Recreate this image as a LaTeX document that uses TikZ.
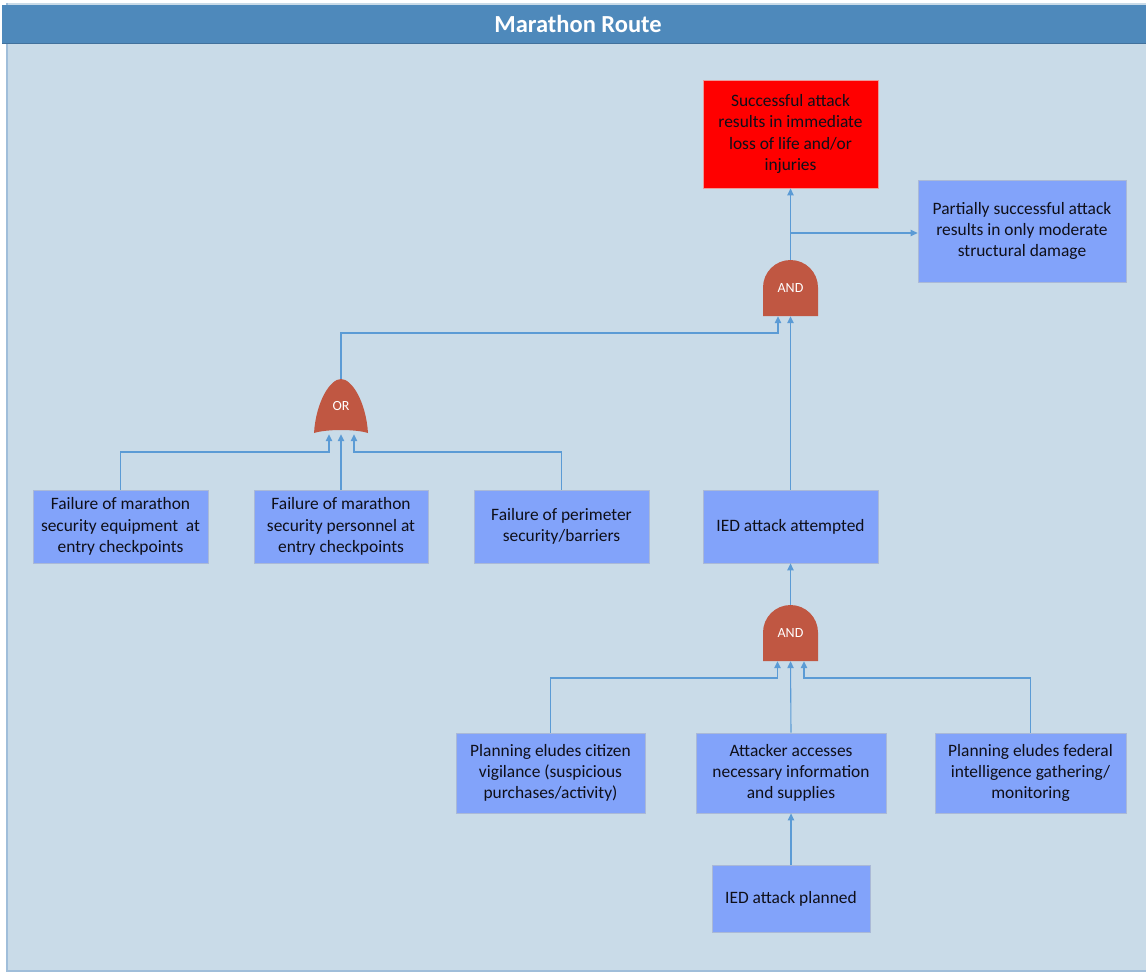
\documentclass[tikz,border=0pt]{standalone}
\usepackage{fontspec}
\setmainfont{Carlito}
\usetikzlibrary{arrows.meta}
\definecolor{bgc}{RGB}{201,219,232}
\definecolor{framec}{RGB}{160,190,218}
\definecolor{titlec}{RGB}{78,137,187}
\definecolor{titleedge}{RGB}{65,113,156}
\definecolor{boxc}{RGB}{130,163,250}
\definecolor{boxedge}{RGB}{170,185,215}
\definecolor{gatec}{RGB}{192,87,66}
\definecolor{linec}{RGB}{91,155,213}
\definecolor{txtc}{RGB}{15,15,25}
\tikzset{
  evt/.style={draw=boxedge, line width=0.8pt, fill=boxc, align=center, text=txtc,
    font=\fontsize{17.4}{21.3}\selectfont, inner sep=0pt},
  topevt/.style={evt, fill=red, draw=red!80!black!40!white},
  gatebox/.style={inner sep=0pt, text=white, font=\fontsize{14}{16}\selectfont},
  gatefill/.style={fill=gatec, draw=none},
  conn/.style={draw=linec, line width=1.1pt, -{Triangle[length=7pt,width=6.5pt]}},
  plain/.style={draw=linec, line width=1.1pt}
}
\begin{document}
\begin{tikzpicture}[x=1pt,y=-1pt]
\useasboundingbox (0,0) rectangle (1146,974);
\fill[white] (0,0) rectangle (1146,974);
\fill[bgc] (7,3) rectangle (1146,971);
\draw[framec, line width=2pt] (7,3) -- (7,971) -- (1146,971);
% title
\fill[titlec] (2,5) rectangle (1146,44);
\draw[titleedge, line width=1pt] (2,44) -- (1146,44);
\node[text=white, font=\fontsize{24.5}{28}\selectfont\bfseries] (title) at (578,24) {Marathon Route};

% events
\node[topevt, minimum width=175, minimum height=108] (top) at (790.5,134) {Successful attack\\results in immediate\\loss of life and/or\\injuries};
\node[evt, minimum width=208, minimum height=102] (part) at (1022,231) {Partially successful attack\\results in only moderate\\structural damage};
\node[evt, minimum width=175, minimum height=73] (fe) at (120.5,526.5) {Failure of marathon\\security equipment\ \ at\\entry checkpoints};
\node[evt, minimum width=174, minimum height=73] (fp) at (341,526.5) {Failure of marathon\\security personnel at\\entry checkpoints};
\node[evt, minimum width=175, minimum height=73] (pb) at (561.5,526.5) {Failure of perimeter\\security/barriers};
\node[evt, minimum width=175, minimum height=73] (ied) at (790.5,526.5) {IED attack attempted};
\node[evt, minimum width=189, minimum height=80] (pc) at (550.5,773) {Planning eludes citizen\\vigilance (suspicious\\purchases/activity)};
\node[evt, minimum width=190, minimum height=80] (acc) at (791,773) {Attacker accesses\\necessary information\\and supplies};
\node[evt, minimum width=191, minimum height=80] (pf) at (1030.5,773) {Planning eludes federal\\intelligence gathering/\\monitoring};
\node[evt, minimum width=158, minimum height=67] (plan) at (791,898.5) {IED attack planned};

% gates
\fill[gatefill] (763,316) -- (763,287.5) arc[start angle=180, end angle=360, radius=27.5] -- (818,316) -- cycle;
\node[gatebox, minimum width=55, minimum height=56] (and1) at (790.5,288) {AND};
\fill[gatefill] (763,661) -- (763,632.5) arc[start angle=180, end angle=360, radius=27.5] -- (818,661) -- cycle;
\node[gatebox, minimum width=55, minimum height=56] (and2) at (790.5,633) {AND};
\fill[gatefill] (341,379) .. controls (352,379) and (366,402) .. (368,433)
  .. controls (355,429) and (327,429) .. (314,433)
  .. controls (316,402) and (330,379) .. (341,379) -- cycle;
\node[gatebox, minimum width=54, minimum height=54] (or) at (341,406) {OR};

% connectors
\draw[conn] (and1.north) -- (top.south);
\coordinate (br) at (790.5,233);
\draw[conn] (br) -- (part.west |- br);
\draw[conn] (or.north) |- (778,333) -- ([xshift=-12.5pt]and1.south);
\draw[conn] (ied.north) -- (and1.south);
\draw[conn] (fe.north) |- (329,452) -- ([xshift=-12pt,yshift=-1pt]or.south);
\draw[conn] (fp.north) -- ([yshift=-1pt]or.south);
\draw[conn] (pb.north) |- (354,452) -- ([xshift=13pt,yshift=-1pt]or.south);
\draw[conn] (and2.north) -- (ied.south);
\draw[conn] (pc.north) |- (777.5,678) -- ([xshift=-13pt]and2.south);
\draw[conn] (acc.north) -- (and2.south);
\draw[conn] (pf.north) |- (804,678) -- ([xshift=13.5pt]and2.south);
\draw[conn] (plan.north) -- (acc.south);
\end{tikzpicture}
\end{document}
